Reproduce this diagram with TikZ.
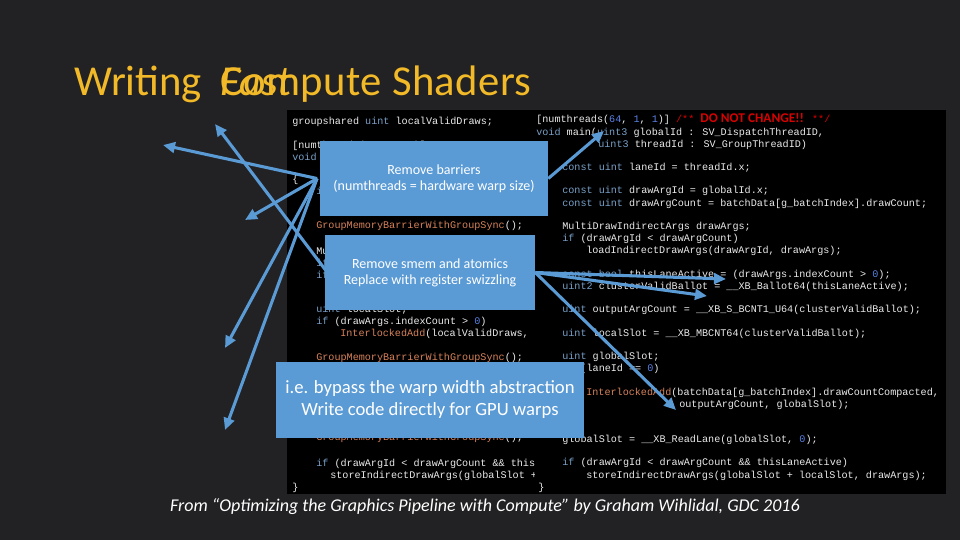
\documentclass[tikz,border=0pt]{standalone}
\usepackage{fontspec}
\setmainfont{Carlito}
\newfontfamily\codefont{Liberation Mono}
\usetikzlibrary{arrows.meta}
\definecolor{bgc}{RGB}{34,34,36}
\definecolor{gold}{RGB}{242,186,40}
\definecolor{boxc}{RGB}{91,155,213}
\definecolor{kw}{RGB}{120,160,200}
\definecolor{fn}{RGB}{215,130,90}
\definecolor{num}{RGB}{90,130,230}
\newcommand{\K}[1]{\textcolor{kw}{#1}}
\newcommand{\F}[1]{\textcolor{fn}{#1}}
\newcommand{\N}[1]{\textcolor{num}{#1}}
\newcommand{\cl}[3]{\node[codeline] at (#1,#2) {#3};}
\tikzset{
 codeline/.style={anchor=base west,inner sep=0,text=white!92!black,font=\codefont\fontsize{7.6pt}{8pt}\selectfont},
 bluebox/.style={fill=boxc,draw=none,text=white,align=center,inner sep=0},
 arr/.style={draw=boxc,line width=2.3pt,-{Triangle[length=9pt,width=8pt]}},
 titlef/.style={anchor=base west,inner sep=0,text=gold,font=\fontsize{32pt}{34pt}\selectfont}
}
\begin{document}
\begin{tikzpicture}[x=0.75pt,y=-0.75pt]
\fill[bgc] (0,0) rectangle (960,540);
\useasboundingbox (0,0) rectangle (960,540);
\fill[black] (287,110) rectangle (946,494);
% title
\node[titlef] (t1) at (74,95) {Writing};
\node[titlef,font=\fontsize{32pt}{34pt}\selectfont\itshape] (t2) at (220,95) {Fast};
\node[titlef,font=\fontsize{32pt}{34pt}\selectfont\addfontfeature{LetterSpace=1}] (t3) at (220,95) {Compute Shaders};
% left code
\begin{scope}
\clip (287,110) rectangle (534,494);
\cl{292}{124}{groupshared \K{uint} localValidDraws;}
\cl{292}{148}{[numthreads(\N{64}, \N{1}, \N{1})]}
\cl{292}{160}{\K{void} main(\K{uint3} globalId : SV\_DispatchThreadID,}
\cl{292}{182}{\{}
\cl{316}{194}{\K{if} (threadId.x == \N{0})}
\cl{316}{228}{\F{GroupMemoryBarrierWithGroupSync}();}
\cl{316}{254}{MultiDrawIndirectArgs drawArgs;}
\cl{316}{266}{\K{if} (drawArgId < drawArgCount)}
\cl{316}{278}{\K{if} (drawArgId < drawArgCount)}
\cl{316}{312}{\K{uint} localSlot;}
\cl{316}{324}{\K{if} (drawArgs.indexCount > \N{0})}
\cl{340}{336}{\F{InterlockedAdd}(localValidDraws, \N{1}, localSlot);}
\cl{316}{360}{\F{GroupMemoryBarrierWithGroupSync}();}
\cl{316}{440}{\F{GroupMemoryBarrierWithGroupSync}();}
\cl{316}{466}{\K{if} (drawArgId < drawArgCount \&\& thisLaneActive)}
\cl{330}{478}{storeIndirectDrawArgs(globalSlot + localSlot, drawArgs);}
\cl{292}{490}{\}}
\end{scope}
% right code
\cl{536}{122}{[numthreads(\N{64}, \N{1}, \N{1})] \textcolor{red!85!black}{/** \textrm{\bfseries\fontsize{10pt}{10pt}\selectfont DO NOT CHANGE!!} **/}}
\cl{536}{135}{\K{void} main(\K{uint3} globalId : SV\_DispatchThreadID,}
\cl{598}{147}{\K{uint3} threadId : SV\_GroupThreadID)}
\cl{562}{170}{\K{const uint} laneId = threadId.x;}
\cl{562}{193}{\K{const uint} drawArgId = globalId.x;}
\cl{562}{206}{\K{const uint} drawArgCount = batchData[g\_batchIndex].drawCount;}
\cl{562}{229}{MultiDrawIndirectArgs drawArgs;}
\cl{562}{241}{\K{if} (drawArgId < drawArgCount)}
\cl{586}{253}{loadIndirectDrawArgs(drawArgId, drawArgs);}
\cl{562}{277}{\K{const bool} thisLaneActive = (drawArgs.indexCount > \N{0});}
\cl{562}{289}{\K{uint2} clusterValidBallot = \_\_XB\_Ballot64(thisLaneActive);}
\cl{562}{312}{\K{uint} outputArgCount = \_\_XB\_S\_BCNT1\_U64(clusterValidBallot);}
\cl{562}{336}{\K{uint} localSlot = \_\_XB\_MBCNT64(clusterValidBallot);}
\cl{562}{359}{\K{uint} globalSlot;}
\cl{562}{371}{\K{if} (laneId == \N{0})}
\cl{586}{395}{\F{InterlockedAdd}(batchData[g\_batchIndex].drawCountCompacted,}
\cl{679}{407}{outputArgCount, globalSlot);}
\cl{562}{442}{globalSlot = \_\_XB\_ReadLane(globalSlot, \N{0});}
\cl{562}{465}{\K{if} (drawArgId < drawArgCount \&\& thisLaneActive)}
\cl{586}{478}{storeIndirectDrawArgs(globalSlot + localSlot, drawArgs);}
\cl{538}{490}{\}}
% boxes
\node[bluebox,minimum width=171pt,minimum height=56pt,font=\fontsize{10.5pt}{12pt}\selectfont] (rb) at (434,178.5) {Remove barriers\\(numthreads = hardware warp size)};
\node[bluebox,minimum width=157.5pt,minimum height=56pt,font=\fontsize{10.5pt}{12pt}\selectfont] (sm) at (430,272.5) {Remove smem and atomics\\Replace with register swizzling};
\node[bluebox,minimum width=231pt,minimum height=57pt,font=\fontsize{14pt}{16.5pt}\selectfont] (ie) at (430,400) {i.e. bypass the warp width abstraction\\Write code directly for GPU warps};
% arrow targets
\coordinate (a1) at (163,145);
\coordinate (a2) at (245,220);
\coordinate (a3) at (225,348);
\coordinate (a4) at (225,430);
\coordinate (a5) at (215,124);
\coordinate (a6) at (604,131);
\coordinate (a7) at (726,279);
\coordinate (a8) at (707,296);
\coordinate (a9) at (676,410);
\draw[arr] ([xshift=-2pt]rb.west) -- (a1);
\draw[arr] ([xshift=-2pt]rb.west) -- (a2);
\draw[arr] ([xshift=-2pt]rb.west) -- (a3);
\draw[arr] ([xshift=-2pt]rb.west) -- (a4);
\draw[arr] ([xshift=2pt]sm.west) -- (a5);
\draw[arr] (rb.east) -- (a6);
\draw[arr] (sm.east) -- (a7);
\draw[arr] (sm.east) -- (a8);
\draw[arr] (sm.east) -- (a9);
% caption
\node[inner sep=0,text=white,font=\fontsize{13.5pt}{15pt}\selectfont\itshape] (cap) at (485,507) {From “Optimizing the Graphics Pipeline with Compute” by Graham Wihlidal, GDC 2016};
\end{tikzpicture}
\end{document}
